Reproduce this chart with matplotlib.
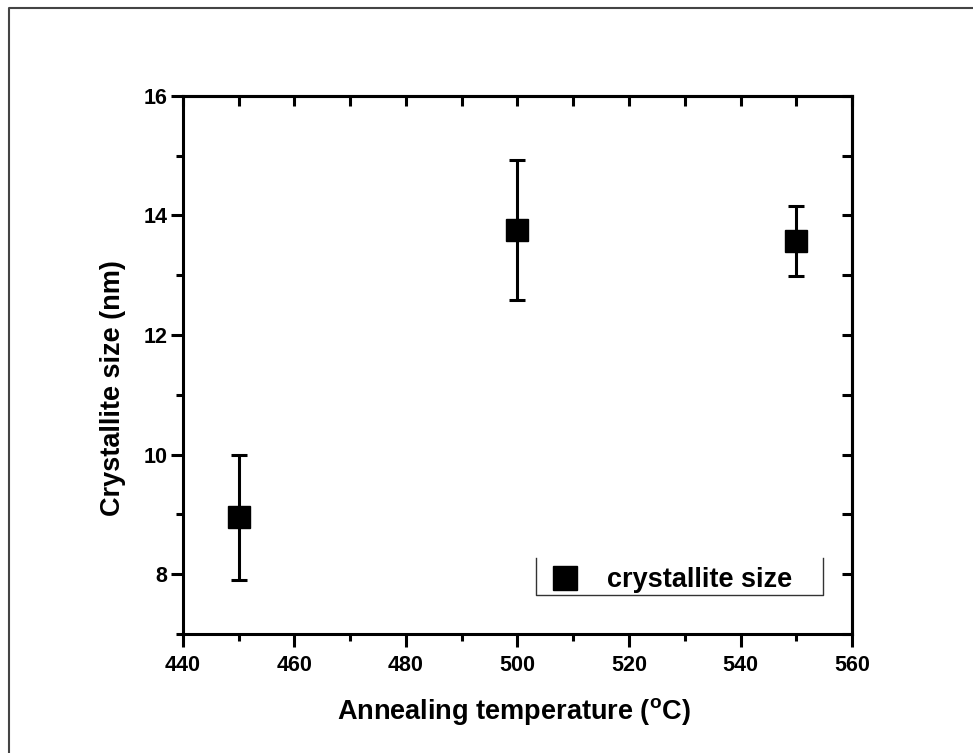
import matplotlib
matplotlib.use('Agg')
import matplotlib.pyplot as plt
from matplotlib.lines import Line2D
from matplotlib.ticker import MultipleLocator

# Datos
temperatura = [450, 500, 550]
tamano = [8.95, 13.76, 13.57]
error = [1.05, 1.17, 0.58]
etiqueta_serie = 'crystallite size'
xticks = [440, 460, 480, 500, 520, 540, 560]
yticks = [8, 10, 12, 14, 16]

FUENTE = ['Liberation Sans', 'DejaVu Sans']

fig = plt.figure(figsize=(9.73, 7.53), dpi=100, facecolor='white')
ax = fig.add_axes([0.188, 0.158, 0.6877, 0.7147])

ax.errorbar(temperatura, tamano, yerr=error, fmt='s', color='black',
            ms=16.5, elinewidth=2.2, capsize=6, capthick=2.2, zorder=3)

ax.set_xlim(440, 560)
ax.set_ylim(7, 16)
ax.set_xticks(xticks)
ax.set_xticklabels([str(v) for v in xticks], family=FUENTE,
                   fontweight='bold', fontsize=15.5)
ax.set_yticks(yticks)
ax.set_yticklabels([str(v) for v in yticks], family=FUENTE,
                   fontweight='bold', fontsize=15.5)
ax.xaxis.set_minor_locator(MultipleLocator(10))
ax.yaxis.set_minor_locator(MultipleLocator(1))
ax.tick_params(which='major', direction='out', length=9, width=2.2)
ax.tick_params(axis='x', which='major', pad=6)
ax.tick_params(axis='y', which='major', pad=2)
ax.tick_params(which='minor', direction='out', length=5, width=2.2)
for s in ax.spines.values():
    s.set_linewidth(2.2)

# Ejes superior y derecho con ticks hacia dentro
top = ax.secondary_xaxis('top')
top.xaxis.set_major_locator(MultipleLocator(10))
top.tick_params(direction='in', length=7, width=2.2, labeltop=False)
right = ax.secondary_yaxis('right')
right.yaxis.set_major_locator(MultipleLocator(1))
right.tick_params(direction='in', length=7, width=2.2, labelright=False)
for a in (top, right):
    for s in a.spines.values():
        s.set_linewidth(2.2)

ax.set_xlabel('Annealing temperature ($\\mathregular{^{o}}$C)', family=FUENTE,
              fontweight='bold', fontsize=19.5)
ax.xaxis.set_label_coords(0.494, -0.115)
ax.set_ylabel('Crystallite size (nm)', family=FUENTE, fontweight='bold',
              fontsize=19.5)
ax.yaxis.set_label_coords(-0.085, 0.457)

# Leyenda con marco abierto arriba
handle = Line2D([], [], marker='s', ls='none', color='black', ms=17)
ax.legend([handle], [etiqueta_serie], loc='center left',
          bbox_to_anchor=(0.551, 0.1), frameon=False, handlelength=1.0,
          handletextpad=1.05, borderpad=0, borderaxespad=0,
          prop={'family': FUENTE, 'weight': 'bold', 'size': 19.5})
x0, x1, y0, y1 = 0.528, 0.957, 0.0725, 0.141
ax.plot([x0, x0, x1, x1], [y1, y0, y0, y1], transform=ax.transAxes,
        color='#333333', lw=1.0, clip_on=False)

# Marco de la figura
fig.add_artist(Line2D([9 / 973, 9 / 973, 1], [0, 1 - 8 / 753, 1 - 8 / 753],
                      transform=fig.transFigure, color='#444444', lw=1.5))

fig.savefig('out.png', dpi=100, facecolor='white')
